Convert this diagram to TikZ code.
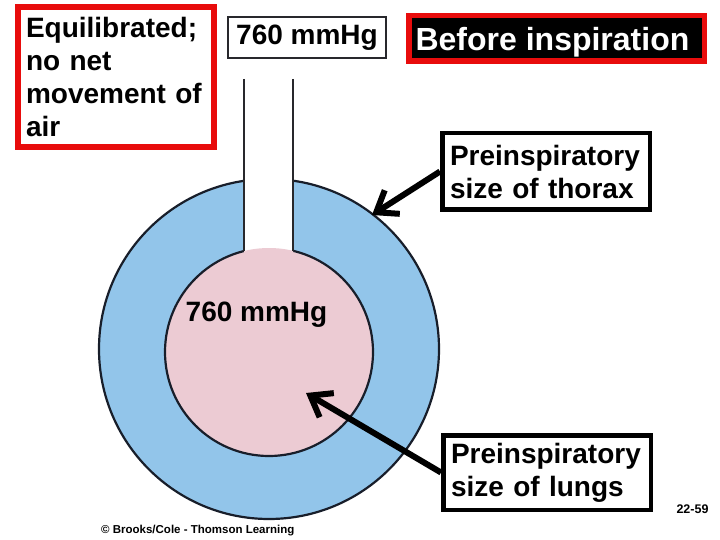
\documentclass[tikz,border=0pt]{standalone}
\usepackage{fontspec}
\setmainfont{Liberation Sans}
\usetikzlibrary{arrows.meta}
\definecolor{ringblue}{RGB}{146,197,234}
\definecolor{lungpink}{RGB}{236,203,211}
\definecolor{outlinecol}{RGB}{24,30,42}
\definecolor{boxred}{RGB}{232,12,12}
\definecolor{tubegray}{RGB}{40,40,44}
\begin{document}
\begin{tikzpicture}[x=1pt,y=-1pt,
  bigfont/.style={font=\fontsize{28}{33}\selectfont\bfseries},
  infobox/.style={bigfont, draw=black, line width=4.5pt, align=left,
    text width=192pt, inner xsep=7.75pt, inner ysep=0pt},
  bigarrow/.style={line width=6pt, -{Straight Barb[length=19pt,width=28pt]}},
  tubeline/.style={draw=tubegray, line width=2.2pt}
]
\useasboundingbox (0,0) rectangle (720,540);

% thorax and lungs
\filldraw[fill=ringblue, draw=outlinecol, line width=2.2pt] (269,349) circle[radius=170pt];
\filldraw[fill=lungpink, draw=outlinecol, line width=2.2pt] (269,352) circle[radius=104pt];
\fill[white] (244,160) rectangle (293,262);
\begin{scope}
  \clip (244,160) rectangle (293,262);
  \fill[lungpink] (269,352) circle[radius=104pt];
\end{scope}
\draw[tubeline] (244,79) -- (244,251);
\draw[tubeline] (293,79) -- (293,251);

% labels
\node[bigfont, anchor=north west, draw=boxred, line width=6pt, text width=180pt,
  align=left, inner xsep=8pt, inner ysep=10pt] (equil) at (15,4)
  {Equilibrated;\\no net\\movement of\\air};
\node[bigfont, draw=tubegray, line width=1.2pt, minimum width=158pt, minimum height=41pt,
  inner sep=0pt] (atm) at (307,37.5) {760 mmHg};
\node[font=\fontsize{32}{36}\selectfont\bfseries, text=white, fill=black, draw=boxred,
  line width=5.5pt, minimum width=295.5pt, minimum height=45.5pt, inner sep=0pt,
  text depth=0pt] (before) at (556.5,38.5) {\hspace*{-8pt}Before inspiration};
\node[bigfont, inner sep=0pt] (alv) at (256.5,314.5) {760 mmHg};

\node[infobox, minimum width=207.5pt, minimum height=76.5pt] (thorax) at (546,171.5)
  {Preinspiratory\\size of thorax};
\node[infobox, minimum width=205.5pt, minimum height=74.5pt] (lungs) at (547,472.5)
  {Preinspiratory\\size of lungs};

\coordinate (thtip) at (372,215);
\coordinate (lutip) at (306,393);
\draw[bigarrow] (thorax.west) -- (thtip);
\draw[bigarrow] (lungs.west) -- (lutip);

\node[font=\fontsize{12.5}{14}\selectfont\bfseries, inner sep=0pt] (slide) at (692.5,509) {22-59};
\node[font=\fontsize{11.5}{13}\selectfont\bfseries, anchor=west, inner sep=0pt] (copy) at (101,531)
  {\textcopyright\ Brooks/Cole - Thomson Learning};
\end{tikzpicture}
\end{document}
